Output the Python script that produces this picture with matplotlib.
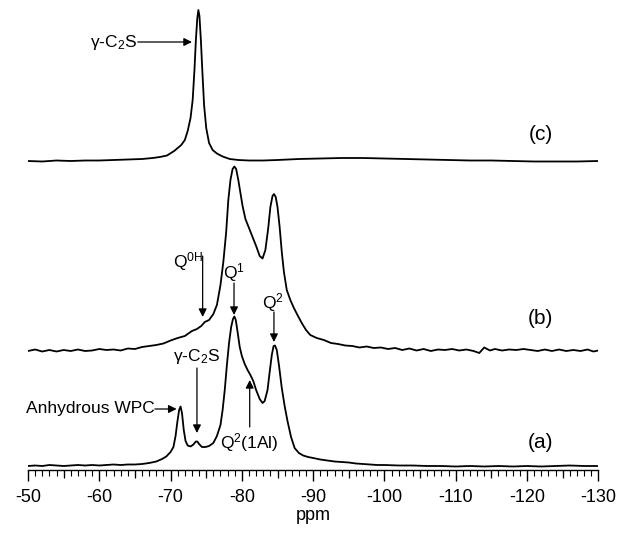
import matplotlib
matplotlib.use("Agg")
import matplotlib.pyplot as plt
import numpy as np

plt.rcParams['font.family'] = ['Liberation Sans', 'DejaVu Sans']
plt.rcParams['mathtext.fontset'] = 'custom'
plt.rcParams['mathtext.rm'] = 'Liberation Sans'
plt.rcParams['mathtext.it'] = 'Liberation Sans:italic'
plt.rcParams['mathtext.bf'] = 'Liberation Sans:bold'

# ---- data (ppm, intensity relative to each trace baseline) ----
ppm_a = [-50, -51, -52, -53, -54, -55, -56, -57, -58, -59, -60, -61, -62, -63, -64, -65, -66, -67, -68,
         -68.8, -69.4, -70.0, -70.4, -70.7, -70.95, -71.2, -71.4, -71.6, -71.85, -72.1, -72.4, -72.8,
         -73.2, -73.55, -73.75, -74.0, -74.4, -74.9, -75.4, -76.0, -76.5, -77.0, -77.3, -77.6, -77.9,
         -78.2, -78.5, -78.75, -78.95, -79.15, -79.4, -79.7, -80.0, -80.4, -80.8, -81.2, -81.6, -82.0,
         -82.5, -82.9, -83.2, -83.6, -83.9, -84.2, -84.45, -84.65, -84.9, -85.2, -85.6, -86.0, -86.4,
         -86.9, -87.4, -88.0, -88.6, -89.3, -90, -91, -92, -93, -94, -95, -96, -97, -98, -99, -100,
         -102, -104, -106, -108, -110, -112, -114, -116, -118, -120, -122, -124, -126, -128, -130]
int_a = [0, 0.5, 0, 1, 0.5, 0, 0.5, 1, 0.5, 1, 0.5, 1, 1.5, 1, 1.5, 1.5, 2, 3, 4.5,
         7, 9.5, 14, 19, 30, 44, 56, 59.5, 53, 36, 25, 20.5, 19.5,
         21.5, 24.5, 24.5, 22, 19, 19, 20, 23, 30, 41, 56, 76, 101,
         123, 139, 147, 149.5, 146, 134, 119, 110, 102, 96, 91, 85, 76,
         67, 63, 65, 76, 94, 111, 120, 120.5, 116, 101, 78, 60, 45,
         29, 18, 13, 10.5, 9, 8, 6.5, 5.5, 4.5, 4, 3.5, 2.5, 2, 1.5, 1, 1,
         0.5, 0.5, 0, 0, -0.5, 0, -0.5, 0, -0.5, 0, -0.5, 0, 0.5, 0, 0]

ppm_b = [-50, -51, -52, -53, -54, -55, -56, -57, -58, -59, -60, -61, -62, -63, -64, -65, -66, -67, -68,
         -69, -70, -71, -72, -73, -73.7, -74.3, -74.8, -75.4, -76.0, -76.5, -77.0, -77.4, -77.8, -78.1,
         -78.4, -78.7, -78.95, -79.2, -79.5, -79.8, -80.1, -80.5, -81.0, -81.5, -82.0, -82.5, -82.9,
         -83.3, -83.7, -84.0, -84.3, -84.5, -84.75, -85.0, -85.3, -85.6, -85.9, -86.3, -86.8, -87.3,
         -87.8, -88.4, -89.0, -89.6, -90.5, -91.5, -92.5, -93.5, -94.5, -95.5, -96.5, -97.5, -98.5,
         -99.5, -100.5, -101.5, -102.5, -103.5, -104.5, -105.5, -106.5, -107.5, -108.5, -109.5,
         -110.5, -111.5, -112.5, -113.3, -114.0, -114.8, -115.5, -116.5, -117.5, -118.5, -119.5,
         -120.5, -121.5, -122.5, -123.5, -124.5, -125.5, -126.5, -127.5, -128.5, -129.3, -130]
int_b = [0, 1.5, -0.5, 1, -0.5, 1, 0, 1.5, 0, 0.5, 2, 1, 1.5, 0.5, 2.5, 2, 4, 5, 6,
         7.5, 10.5, 13, 15, 20, 22, 25, 29, 31, 37, 46, 66, 89, 119, 151,
         171, 182, 184.5, 182, 171, 158, 145, 132, 123, 114, 105, 95, 92.5,
         101, 123, 144, 155, 157, 154, 144, 124, 99, 79, 61, 51, 43,
         36, 28, 21, 16, 13, 11, 8, 7, 5.5, 5, 3.5, 4.5, 3,
         3.5, 2, 3, 1, 2.5, 0.5, 2, 0, 1.5, 1, 2,
         0.5, 1.5, 0, -2, 3.5, 0.5, 2, 0.5, 1.5, 1, 2,
         1, 0, 1.5, 0, 1.5, 0, 1, 0, 1.5, -0.5, 0.5]

ppm_c = [-50, -52, -54, -56, -58, -60, -62, -64, -66, -67.5, -68.5, -69.5, -70.5, -71.0, -71.5, -72.0,
         -72.4, -72.8, -73.1, -73.35, -73.55, -73.75, -73.9, -74.05, -74.25, -74.45, -74.7, -75.0,
         -75.4, -75.9, -76.5, -77.3, -78.3, -79.5, -81, -83, -85, -88, -91, -94, -97, -100, -103,
         -106, -109, -112, -115, -118, -121, -124, -127, -130]
int_c = [0, -0.5, 0.5, 0, 0.5, 0.5, 1, 1.5, 2, 3, 4, 5.5, 10, 13, 16, 21,
         30, 43, 61, 91, 121, 143, 151, 145, 121, 91, 56, 33,
         18, 11, 7.5, 4.5, 2, 1, 0.5, 0.5, 1, 2, 2.5, 3, 3, 2.5, 2,
         1.5, 1, 0.5, 0.5, 0, -0.5, -0.5, -0.5, 0]

trace_labels = ['(a)', '(b)', '(c)']
x_ticks = [-50, -60, -70, -80, -90, -100, -110, -120, -130]

# vertical stacking offsets
off_a, off_b, off_c = 4, 119, 309

fig = plt.figure(figsize=(6.3, 5.39), dpi=100)
ax = fig.add_axes([28 / 630, 69 / 539, (598.3 - 28) / 630, 465 / 539])
ax.set_xlim(-50, -130)
ax.set_ylim(0, 465)

lw = 1.3
ax.plot(ppm_a, np.array(int_a) + off_a, color='black', lw=lw)
ax.plot(ppm_b, np.array(int_b) + off_b, color='black', lw=lw)
ax.plot(ppm_c, np.array(int_c) + off_c, color='black', lw=lw)

for s in ['left', 'right', 'top']:
    ax.spines[s].set_visible(False)
ax.spines['bottom'].set_linewidth(1.0)
ax.set_yticks([])
ax.set_xticks(x_ticks)
ax.set_xticklabels([str(t) for t in x_ticks])
ax.set_xticks(np.arange(-50, -131, -1), minor=True)
ax.tick_params(axis='x', which='major', direction='out', length=7.7, width=1.0,
               labelsize=13, pad=6)
ax.tick_params(axis='x', which='minor', direction='out', length=4.3, width=0.8)
sec = ax.secondary_xaxis('bottom')
sec.set_xticks(np.arange(-55, -130, -10))
sec.set_xticklabels([])
sec.tick_params(axis='x', direction='out', length=5.4, width=0.9)
sec.spines['bottom'].set_visible(False)
ax.set_xlabel('ppm', fontsize=13, labelpad=1)

# trace labels
lab_x = -121.95
for lab, y in zip(trace_labels, [28, 152, 336]):
    ax.text(lab_x, y, lab, fontsize=15, ha='center', va='center')

fs = 12.5
ap = dict(arrowstyle='-|>', color='black', lw=0.9, mutation_scale=12,
          shrinkA=0, shrinkB=0)

# (c) gamma-C2S
ax.text(-65.3, 428, r'γ-C$_2$S', fontsize=fs, ha='right', va='center')
ax.annotate('', xy=(-73.0, 428), xytext=(-65.4, 428), arrowprops=ap)

# (b) annotations
ax.text(-74.55, 208, r'Q$^{\mathrm{0H}}$', fontsize=fs, ha='right', va='center')
ax.annotate('', xy=(-74.5, 153), xytext=(-74.5, 214), arrowprops=ap)
ax.text(-78.9, 197, r'Q$^1$', fontsize=fs, ha='center', va='center')
ax.annotate('', xy=(-78.9, 155), xytext=(-78.9, 187), arrowprops=ap)
ax.text(-84.4, 167, r'Q$^2$', fontsize=fs, ha='center', va='center')
ax.annotate('', xy=(-84.5, 128), xytext=(-84.5, 158), arrowprops=ap)

# (a) annotations
ax.text(-67.8, 61, 'Anhydrous WPC', fontsize=fs, ha='right', va='center')
ax.annotate('', xy=(-70.85, 61), xytext=(-67.8, 61), arrowprops=ap)
ax.text(-73.65, 113, r'γ-C$_2$S', fontsize=fs, ha='center', va='center')
ax.annotate('', xy=(-73.7, 37), xytext=(-73.7, 102), arrowprops=ap)
ax.text(-81.1, 27, r'Q$^2$(1Al)', fontsize=fs, ha='center', va='center')
ax.annotate('', xy=(-81.1, 90), xytext=(-81.1, 43), arrowprops=ap)

fig.savefig('out.png', dpi=100)
